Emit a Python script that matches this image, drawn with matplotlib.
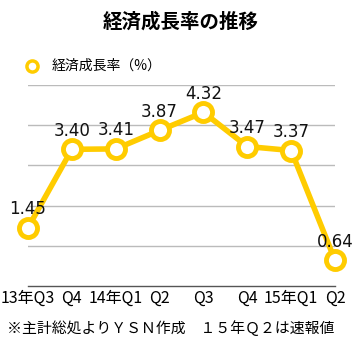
import matplotlib
matplotlib.use("Agg")
import matplotlib.pyplot as plt

plt.rcParams['font.family'] = ['Noto Sans CJK JP', 'DejaVu Sans']

categories = ["13年Q3", "Q4", "14年Q1", "Q2", "Q3", "Q4", "15年Q1", "Q2"]
values = [1.45, 3.40, 3.41, 3.87, 4.32, 3.47, 3.37, 0.64]
labels = ["1.45", "3.40", "3.41", "3.87", "4.32", "3.47", "3.37", "0.64"]

W, H = 363, 352
fig = plt.figure(figsize=(W/100, H/100), dpi=100)
ax = fig.add_axes([28/W, (H-286)/H, (335-28)/W, (286-85)/H])

color = "#FFCC00"
x = list(range(len(values)))
ax.plot(x, values, color=color, lw=4, marker='o', ms=13, mfc='white',
        mec=color, mew=3.5, clip_on=False, zorder=3, label="経済成長率（%）")

for xi, v, t in zip(x, values, labels):
    ax.annotate(t, (xi, v), xytext=(0, 7), textcoords='offset points',
                ha='center', va='bottom', fontsize=12, color='#111111',
                family=['DejaVu Sans'])

ax.set_xlim(0, 7)
ax.set_ylim(0, 5)
ax.set_yticks([1, 2, 3, 4, 5])
ax.yaxis.grid(True, color='#BBBBBB', lw=1)
ax.set_axisbelow(True)
ax.tick_params(axis='y', left=False, labelleft=False)
ax.set_xticks(x)
ax.set_xticklabels(categories, fontsize=11.5)
ax.tick_params(axis='x', length=0, pad=3)
for s in ['top', 'left', 'right']:
    ax.spines[s].set_visible(False)
ax.spines['bottom'].set_color('#555555')
ax.spines['bottom'].set_linewidth(1)

fig.text(181/W, 1-22/H, "経済成長率の推移", ha='center', va='center',
         fontsize=14, fontweight='bold')

# legend
fig.lines.append(matplotlib.lines.Line2D([32/W], [1-66/H], marker='o', ms=8,
                 mfc='white', mec=color, mew=2.5, transform=fig.transFigure))
fig.text(52/W, 1-66/H, "経済成長率（%）", ha='left', va='center', fontsize=10)

fig.text(171/W, 1-328/H, "※主計総処よりＹＳＮ作成　１５年Ｑ２は速報値",
         ha='center', va='center', fontsize=10.7)

fig.savefig("out.png", dpi=100)
